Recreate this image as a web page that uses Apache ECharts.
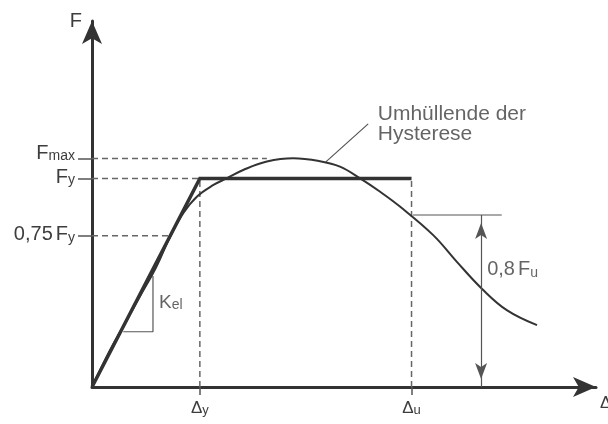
<!DOCTYPE html>
<html>
<head>
<meta charset="utf-8">
<title>Kraft-Verformungs-Kurve</title>
<script src="https://cdn.jsdelivr.net/npm/echarts@6/dist/echarts.min.js"></script>
<style>
  html, body { margin: 0; padding: 0; background: #fff; }
  #chart { width: 608px; height: 424px; }
</style>
</head>
<body>
<div id="chart"></div>
<script>
// values, both axes in arbitrary units 0..100
var dispY = 21.4;      // Δy
var dispU = 63.4;      // Δu
var forceY = 57.0;     // Fy
var forceMax = 62.4;   // Fmax
var force075 = 41.3;   // 0,75 Fy
var force08u = 47.0;   // 0,8 Fu

// envelope of the hysteresis (Umhüllende)
var envelopeX = [0, 3.6, 6.2, 9.5, 12.8, 15.5, 18.1, 20.8, 24.1, 26.7, 30.0, 34.7, 39.9, 45.2, 49.2, 53.2, 57.1, 61.1, 67.7, 72.4, 77.4, 82.3, 88.3];
var envelopeY = [0, 10.1, 16.5, 24.7, 32.9, 41.1, 47.5, 52.0, 55.2, 57.0, 59.3, 61.6, 62.5, 61.7, 60.2, 57.0, 53.4, 49.3, 41.5, 34.2, 26.8, 21.0, 16.9];

// bilinear idealisation
var bilinearX = [0, dispY, dispU];
var bilinearY = [0, forceY, forceY];

// stiffness triangle K_el
var kelX = [6.2, 12.1, 12.1];
var kelY = [15.1, 15.1, 30.3];

// leader line to the text, and the 0,8 Fu dimension
var leaderX = [46.4, 54.8];
var leaderY = [61.5, 71.9];
var fuLineX = [63.7, 81.3];
var fuArrowX = 77.2;

// where the dashed guides stop on the curve
var fmaxGuideEnd = 34.7;
var f075GuideEnd = 15.5;

// tick labels (Fmax gets its own overlay axis so it is never thinned out)
var yTickValues = [force075, forceY];
var yTickMain = ['0,75', ''];
var yTickSub = ['y', 'y'];
var yMaxTickValues = [forceMax];
var yMaxTickSub = ['max'];
var xTickValues = [dispY, dispU];
var xTickSub = ['y', 'u'];

var dark = '#333';
var mid = '#555';
var textColor = '#3d3d3d';
var font = '"Liberation Sans", Arial, Helvetica, sans-serif';

function pairs(xs, ys) {
  return xs.map(function (x, i) { return [x, ys[i]]; });
}

function dashed(points) {
  return {
    type: 'line',
    data: points,
    showSymbol: false,
    silent: true,
    lineStyle: { color: '#666', width: 1.5, type: [6, 4] },
    z: 1
  };
}

function thin(points, extra) {
  var s = {
    type: 'line',
    data: points,
    showSymbol: false,
    silent: true,
    lineStyle: { color: mid, width: 1.2 },
    z: 2
  };
  return Object.assign(s, extra || {});
}

// subscript tokens sit a few pixels under the main letters
var subRich = {
  n: { fontFamily: font, fontSize: 20, lineHeight: 18, verticalAlign: 'bottom', color: textColor, padding: [0, 3, 0, 0] },
  m: { fontFamily: font, fontSize: 20, lineHeight: 18, verticalAlign: 'bottom', color: textColor },
  s: { fontFamily: font, fontSize: 14, lineHeight: 0, verticalAlign: 'bottom', color: textColor }
};

function forceAxis(values, mains, subs, showLine, labelPadding) {
  return {
    type: 'value',
    position: 'left',
    min: 0,
    max: 100,
    splitLine: { show: false },
    axisLine: {
      show: showLine,
      onZero: false,
      symbol: ['none', 'arrow'],
      symbolSize: [15, 23],
      lineStyle: { color: dark, width: 3 }
    },
    axisTick: {
      show: true,
      customValues: values,
      length: 14,
      lineStyle: { color: mid, width: 1.5 }
    },
    axisLabel: {
      show: true,
      customValues: values,
      margin: 17,
      padding: labelPadding,
      formatter: function (v) {
        var i = values.indexOf(v);
        var pre = mains[i] ? '{n|' + mains[i] + '}' : '';
        return pre + '{m|F}{s|' + subs[i] + '}';
      },
      rich: subRich
    }
  };
}

var mainY = forceAxis(yTickValues, yTickMain, yTickSub, true, 0);
mainY.name = 'F';
mainY.nameLocation = 'end';
mainY.nameGap = 0;
mainY.nameTextStyle = { fontFamily: font, fontSize: 20, color: textColor, align: 'right', verticalAlign: 'middle', padding: [0, 10, 0, 0] };
var maxY = forceAxis(yMaxTickValues, [''], yMaxTickSub, false, [0, 0, 8, 0]);

var chart = echarts.init(document.getElementById('chart'));

chart.setOption({
  animation: false,
  backgroundColor: '#fff',
  textStyle: { fontFamily: font, color: textColor },
  grid: { left: 92, right: 12, top: 21, bottom: 37, containLabel: false, outerBoundsMode: 'none' },
  xAxis: {
    type: 'value',
    min: 0,
    max: 100,
    splitLine: { show: false },
    axisLine: {
      show: true,
      onZero: false,
      symbol: ['none', 'arrow'],
      symbolSize: [15, 23],
      lineStyle: { color: dark, width: 3 }
    },
    axisTick: {
      show: true,
      customValues: xTickValues,
      length: 8,
      lineStyle: { color: mid, width: 1.5 }
    },
    axisLabel: {
      show: true,
      customValues: xTickValues,
      margin: 12,
      formatter: function (v) {
        var i = xTickValues.indexOf(v);
        return '{m|Δ}{s|' + xTickSub[i] + '}';
      },
      rich: {
        m: { fontFamily: font, fontSize: 17, lineHeight: 18, verticalAlign: 'bottom', color: textColor },
        s: { fontFamily: font, fontSize: 13, lineHeight: 1, verticalAlign: 'bottom', color: textColor }
      }
    },
    name: 'Δ',
    nameLocation: 'end',
    nameGap: 4,
    nameTextStyle: { fontFamily: font, fontSize: 17, color: textColor, align: 'left', verticalAlign: 'top', padding: [8, 0, 0, 0] }
  },
  yAxis: [mainY, maxY],
  series: [
    // dashed guide lines
    dashed([[0, forceMax], [fmaxGuideEnd, forceMax]]),
    dashed([[0, forceY], [dispY, forceY]]),
    dashed([[0, force075], [f075GuideEnd, force075]]),
    dashed([[dispY, 0], [dispY, forceY]]),
    dashed([[dispU, 0], [dispU, forceY]]),
    // envelope
    {
      type: 'line',
      name: 'Umhüllende',
      data: pairs(envelopeX, envelopeY),
      smooth: 0.4,
      showSymbol: false,
      silent: true,
      lineStyle: { color: dark, width: 2 },
      z: 3
    },
    // bilinear
    {
      type: 'line',
      name: 'bilinear',
      data: pairs(bilinearX, bilinearY),
      showSymbol: false,
      silent: true,
      lineStyle: { color: dark, width: 3.5, join: 'miter' },
      z: 4
    },
    thin(pairs(kelX, kelY)),
    thin(pairs(leaderX, leaderY)),
    thin([[fuLineX[0], force08u], [fuLineX[1], force08u]], {
      markLine: {
        silent: true,
        animation: false,
        symbol: ['arrow', 'arrow'],
        symbolSize: [9, 16],
        symbolOffset: [[0, 8], [0, 8]],
        label: { show: false },
        lineStyle: { color: mid, width: 1.2, type: 'solid' },
        data: [[{ coord: [fuArrowX, 0] }, { coord: [fuArrowX, force08u] }]]
      }
    }),
    // text notes
    {
      type: 'scatter',
      silent: true,
      symbolSize: 0,
      z: 5,
      label: {
        show: true,
        position: 'right',
        distance: 0,
        color: textColor,
        fontFamily: font
      },
      data: [
        {
          value: [56.7, 71.7],
          label: { formatter: 'Umhüllende der\nHysterese', fontSize: 21, lineHeight: 20 }
        },
        {
          value: [78.4, 31.7],
          label: { formatter: '{n|0,8}{m|F}{s|u}', rich: subRich }
        },
        {
          value: [13.3, 23.0],
          label: {
            formatter: '{m|K}{s|el}',
            rich: {
              m: { fontFamily: font, fontSize: 19, lineHeight: 18, verticalAlign: 'bottom', color: textColor },
              s: { fontFamily: font, fontSize: 14, lineHeight: 0, verticalAlign: 'bottom', color: textColor }
            }
          }
        }
      ]
    }
  ]
});
</script>
</body>
</html>
